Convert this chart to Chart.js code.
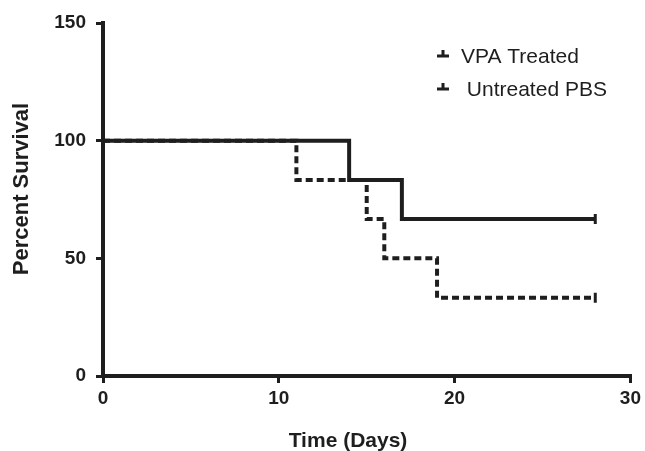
<!DOCTYPE html>
<html>
<head>
<meta charset="utf-8">
<script src="https://cdn.jsdelivr.net/npm/chart.js@4"></script>
<style>
  body { margin: 0; background: #fff; }
  canvas { display: block; }
</style>
</head>
<body>
<canvas id="survival-chart" width="645" height="451"></canvas>
<script>
// Kaplan-Meier data (days, percent surviving)
const vpaDays = [0, 14, 17, 28];
const vpaSurvival = [100, 83.3, 66.7, 66.7];
const pbsDays = [0, 11, 15, 16, 19, 28];
const pbsSurvival = [100, 83.3, 66.7, 50, 33.3, 33.3];
const seriesLabels = ["VPA Treated", " Untreated PBS"];
const xTicks = [0, 10, 20, 30];
const yTicks = [0, 50, 100, 150];
const xTitle = "Time (Days)";
const yTitle = "Percent Survival";

const ink = "#1e1e1e";
const font = "'Liberation Sans', Arial, sans-serif";

function toPoints(days, values) {
    return days.map((d, i) => ({ x: d, y: values[i] }));
}

// only the last point (censored) gets a tick mark
function censorRadius(days) {
    return days.map((d, i) => (i === days.length - 1 ? 5 : 0));
}

// legend inside the plot (top right) + axis titles, placed like the original figure
const extras = {
    id: "extras",
    afterDraw(chart) {
        const c = chart.ctx;
        const rows = [56, 89];
        c.save();
        c.fillStyle = ink;
        c.strokeStyle = ink;
        chart.data.datasets.forEach((ds, i) => {
            const y = rows[i];
            c.lineWidth = 3;
            c.beginPath();
            c.moveTo(437, y);
            c.lineTo(449, y);
            c.moveTo(443, y + 1);
            c.lineTo(443, y - 6);
            c.stroke();
            c.font = "21px " + font;
            c.textAlign = "left";
            c.textBaseline = "middle";
            c.fillText(ds.label, 461, y + 1);
        });

        c.font = "bold 21px " + font;
        c.textAlign = "center";
        c.textBaseline = "middle";
        c.fillText(xTitle, 348, 441);

        c.translate(22, 189);
        c.rotate(-Math.PI / 2);
        c.font = "bold 22px " + font;
        c.fillText(yTitle, 0, 0);
        c.restore();
    }
};

const ctx = document.getElementById("survival-chart").getContext("2d");

new Chart(ctx, {
    type: "line",
    data: {
        datasets: [{
            label: seriesLabels[0],
            data: toPoints(vpaDays, vpaSurvival),
            stepped: "before",
            borderColor: ink,
            borderWidth: 4,
            fill: false,
            pointStyle: "line",
            rotation: 90,
            pointRadius: censorRadius(vpaDays),
            pointBorderWidth: 3,
            pointBorderColor: ink
        }, {
            label: seriesLabels[1],
            data: toPoints(pbsDays, pbsSurvival),
            stepped: "before",
            borderColor: ink,
            borderWidth: 4,
            borderDash: [7, 4],
            fill: false,
            pointStyle: "line",
            rotation: 90,
            pointRadius: censorRadius(pbsDays),
            pointBorderWidth: 3,
            pointBorderColor: ink
        }]
    },
    options: {
        responsive: false,
        animation: false,
        layout: { padding: { top: 23, right: 14, left: 0, bottom: 0 } },
        plugins: {
            legend: { display: false },
            tooltip: { enabled: false }
        },
        scales: {
            x: {
                type: "linear",
                min: 0,
                max: 30,
                afterBuildTicks: (axis) => { axis.ticks = xTicks.map(v => ({ value: v })); },
                afterFit: (axis) => { axis.height = 75; },
                border: { display: true, color: ink, width: 4 },
                grid: { display: true, drawOnChartArea: false, drawTicks: true, tickLength: 7, lineWidth: 3, color: ink },
                ticks: { color: ink, padding: 4, maxRotation: 0, font: { family: font, size: 19, weight: "bold" } }
            },
            y: {
                min: 0,
                max: 150,
                afterBuildTicks: (axis) => { axis.ticks = yTicks.map(v => ({ value: v })); },
                afterFit: (axis) => { axis.width = 103; },
                border: { display: true, color: ink, width: 4 },
                grid: { display: true, drawOnChartArea: false, drawTicks: true, tickLength: 7, lineWidth: 3, color: ink },
                ticks: { color: ink, padding: 10, font: { family: font, size: 19, weight: "bold" } }
            }
        }
    },
    plugins: [extras]
});
</script>
</body>
</html>
